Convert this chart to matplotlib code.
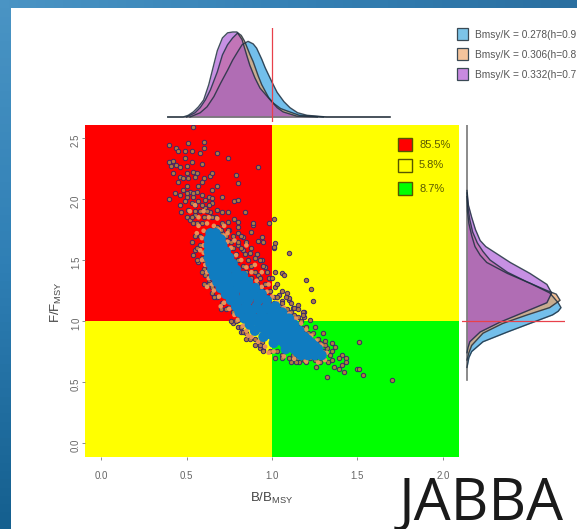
import numpy as np
import matplotlib
matplotlib.use('Agg')
import matplotlib.pyplot as plt
from matplotlib.patches import Rectangle
from matplotlib.colors import LinearSegmentedColormap
from matplotlib.transforms import ScaledTranslation

plt.rcParams['font.family'] = ['Liberation Sans', 'DejaVu Sans']
plt.rcParams['mathtext.default'] = 'regular'

# legend labels, as far as the picture shows them
run_labels = ['Bmsy/K = 0.278(h=0.9', 'Bmsy/K = 0.306(h=0.8', 'Bmsy/K = 0.332(h=0.7']
zone_labels = ['85.5%', '5.8%', '8.7%']
x_ticks = [0.0, 0.5, 1.0, 1.5, 2.0]
y_ticks = [0.0, 0.5, 1.0, 1.5, 2.0, 2.5]

# top density, B/Bmsy against relative height
top_x_blue = [0.52, 0.58, 0.62, 0.66, 0.70, 0.74, 0.77, 0.80, 0.825, 0.86, 0.89, 0.91, 0.94, 0.96, 1.00, 1.03, 1.07, 1.105, 1.15, 1.205, 1.32, 1.69]
top_d_blue = [0, 0.05, 0.12, 0.24, 0.40, 0.55, 0.67, 0.77, 0.85, 0.89, 0.86, 0.81, 0.68, 0.58, 0.41, 0.29, 0.18, 0.11, 0.05, 0.02, 0, 0]
top_x_orange = [0.50, 0.55, 0.58, 0.61, 0.64, 0.68, 0.71, 0.74, 0.77, 0.80, 0.82, 0.84, 0.87, 0.89, 0.92, 0.94, 0.98, 1.01, 1.05, 1.09, 1.16, 1.30]
top_d_orange = [0, 0.05, 0.11, 0.20, 0.32, 0.53, 0.73, 0.85, 0.93, 0.99, 0.96, 0.89, 0.74, 0.65, 0.48, 0.38, 0.23, 0.16, 0.10, 0.07, 0.02, 0]
top_x_purple = [0.39, 0.48, 0.51, 0.54, 0.57, 0.60, 0.63, 0.655, 0.68, 0.71, 0.74, 0.77, 0.795, 0.825, 0.85, 0.87, 0.90, 0.93, 0.99, 1.03, 1.065, 1.145, 1.265]
top_d_purple = [0, 0, 0.02, 0.06, 0.12, 0.20, 0.38, 0.58, 0.78, 0.93, 0.99, 1.0, 1.0, 0.91, 0.74, 0.61, 0.46, 0.34, 0.20, 0.11, 0.06, 0.01, 0]

# right density, F/Fmsy against relative width
right_y_blue = [2.02, 1.90, 1.80, 1.70, 1.61, 1.54, 1.48, 1.39, 1.31, 1.23, 1.15, 1.11, 1.08, 1.05, 0.98, 0.91, 0.83, 0.75, 0.70, 0.62]
right_d_blue = [0, 0.005, 0.02, 0.05, 0.085, 0.14, 0.21, 0.43, 0.67, 0.88, 0.97, 1.0, 0.97, 0.91, 0.67, 0.43, 0.17, 0.05, 0.02, 0]
right_y_orange = [2.05, 1.93, 1.83, 1.73, 1.64, 1.57, 1.50, 1.40, 1.32, 1.25, 1.22, 1.17, 1.11, 1.05, 0.98, 0.90, 0.80, 0.74, 0.68]
right_d_orange = [0, 0.01, 0.03, 0.06, 0.11, 0.17, 0.245, 0.43, 0.64, 0.85, 0.95, 0.99, 0.88, 0.64, 0.38, 0.17, 0.05, 0.02, 0]
right_y_purple = [2.07, 1.95, 1.85, 1.75, 1.66, 1.61, 1.57, 1.48, 1.39, 1.30, 1.23, 1.15, 1.07, 0.99, 0.91, 0.83, 0.78, 0.74]
right_d_purple = [0, 0.015, 0.05, 0.09, 0.14, 0.20, 0.28, 0.46, 0.67, 0.85, 0.90, 0.85, 0.60, 0.35, 0.14, 0.03, 0.01, 0]

# scatter: (B/Bmsy, F/Fmsy)
points_purple = [
    (.54,2.59),(.40,2.44),(.44,2.42),(.51,2.46),(.60,2.47),(.60,2.42),(.45,2.39),(.49,2.39),(.53,2.39),(.58,2.38),
    (.68,2.38),(.74,2.34),(.49,2.34),(.40,2.30),(.42,2.31),(.44,2.28),(.41,2.27),(.46,2.26),(.50,2.27),(.53,2.30),
    (.59,2.29),(.92,2.26),(.42,2.21),(.46,2.18),(.50,2.21),(.54,2.22),(.56,2.21),(.48,2.17),(.51,2.17),(.55,2.18),
    (.60,2.17),(.64,2.19),(.65,2.21),(.79,2.20),(.80,2.13),(.68,2.11),(.45,2.14),(.50,2.11),(.57,2.11),(.59,2.14),
    (.65,2.07),(.48,2.07),(.52,2.06),(.56,2.06),(.43,2.05),(.40,2.00),(.46,2.03),(.50,2.02),(.54,2.02),(.59,2.03),
    (.63,2.02),(.65,2.01),(.71,2.02),(.78,1.98),(.80,1.99),(.46,1.95),(.49,1.98),(.53,1.97),(.57,1.98),(.61,1.99),
    (.65,1.97),(.47,1.89),(.51,1.91),(.50,1.85),(.52,1.83),(.54,1.80),(.55,1.87),(.61,1.93),(.64,1.89),(.68,1.91),
    (.71,1.89),(.74,1.89),(.67,1.85),(.74,1.81),(.78,1.84),(.80,1.81),(.84,1.89),(.89,1.79),(.98,1.80),(.71,1.80),
    (.80,1.77),(.53,1.65),(.55,1.58),(.54,1.54),(.58,1.62),(.59,1.52),(.57,1.48),(.60,1.43),(.61,1.38),(.63,1.32),
    (.65,1.28),(.65,1.23),(.68,1.20),(.71,1.15),(.74,1.11),(.77,1.07),(.80,1.01),(.77,.98),(.82,.91),(.68,1.77),
    (.71,1.72),(.75,1.66),(.80,1.62),(.83,1.58),(.87,1.56),(.90,1.52),(.94,1.50),(.92,1.66),(.94,1.69),(1.01,1.60),
    (1.02,1.64),(1.10,1.56),(.88,1.73),(.83,1.69),(.80,1.72),(.75,1.75),(1.02,1.40),(1.06,1.39),(1.07,1.38),(1.09,1.23),
    (.96,1.44),(.98,1.35),(.92,1.38),(1.02,1.28),(1.04,1.21),(1.01,1.20),(1.06,1.16),(1.10,1.17),(1.12,1.11),(1.05,1.12),
    (1.11,1.07),(1.15,1.13),(1.01,1.84),(1.01,1.61),(1.20,1.34),(1.23,1.26),(1.24,1.16),(1.19,1.07),(1.13,1.11),(1.10,1.19),
    (.95,1.65),(.89,1.80),(1.18,1.07),(1.19,1.03),(1.22,1.01),(1.15,1.03),(1.30,.90),(1.51,.83),(1.18,.94),(1.21,.90),
    (1.24,.83),(1.28,.82),(1.31,.84),(1.35,.82),(1.37,.79),(1.32,.78),(1.29,.75),(1.34,.72),(1.41,.72),(1.43,.70),
    (1.39,.70),(1.35,.68),(1.33,.66),(1.28,.66),(1.43,.66),(1.41,.64),(1.36,.62),(1.39,.61),(1.26,.62),(1.42,.58),
    (1.50,.61),(1.51,.61),(1.53,.56),(1.32,.54),(1.70,.52),(1.11,.66),(1.16,.66),(1.19,.68),(1.22,.70),(1.25,.68),
    (1.03,.75),(1.02,.82),(1.08,.76),(1.06,.72),(1.12,.72),(1.15,.70),(1.00,.83),(.83,.91),(.85,.85),(.93,.78),
    (.95,.76),(.94,.83),
    # right rim of the band
    (.70,1.75),(.74,1.75),(.73,1.70),(.77,1.70),(.82,1.70),(.76,1.65),(.80,1.65),(.85,1.65),(.77,1.60),(.82,1.60),
    (.88,1.60),(.79,1.55),(.84,1.55),(.91,1.55),(.80,1.50),(.86,1.50),(.93,1.50),(.83,1.45),(.88,1.45),(.95,1.45),
    (.85,1.40),(.90,1.40),(.97,1.40),(.88,1.35),(.93,1.35),(1.00,1.35),(.91,1.30),(.96,1.30),(1.03,1.30),(.95,1.25),
    (.99,1.25),(1.06,1.25),(.98,1.20),(1.03,1.20),(1.08,1.20),(1.01,1.15),(1.06,1.15),(1.11,1.15),(1.04,1.10),(1.09,1.10),
    (1.15,1.10),(1.08,1.05),(1.13,1.05),(1.18,1.05),(1.12,1.00),(1.17,1.00),(1.15,.95),(1.20,.95),(1.25,.95),(1.19,.90),
    (1.24,.90),(1.22,.85),(1.27,.85),(1.25,.80),(1.31,.80),(1.30,.75),(1.35,.75),
    # left rim of the band
    (.56,1.80),(.59,1.80),(.55,1.70),(.58,1.70),(.56,1.60),(.56,1.50),(.60,1.50),(.59,1.40),(.60,1.30),(.63,1.30),
    (.66,1.20),(.70,1.10),(.73,1.10),(.76,1.00),(.79,1.00),(.80,.95),(.82,.95),(.85,.90),(.87,.85),(.90,.85),
    (.90,.80),(.93,.80),(.95,.75),(.99,.75),(1.02,.70),(1.06,.70),(1.10,.70),(1.14,.66),(1.20,.66),
    # top of the cloud
    (.55,1.90),(.58,1.90),(.62,1.90),(.53,1.85),(.60,1.85),(.65,1.85),(.55,1.95),(.59,1.95),(.63,1.95),(.50,2.05),(.54,2.05),
]
points_orange = [
    (.62,1.80),(.66,1.78),(.60,1.74),(.69,1.75),(.59,1.68),(.72,1.70),(.60,1.62),(.74,1.65),(.60,1.56),(.76,1.60),
    (.59,1.50),(.79,1.54),(.61,1.46),(.82,1.50),(.62,1.40),(.85,1.44),(.63,1.35),(.88,1.40),(.65,1.30),(.91,1.33),
    (.66,1.25),(.94,1.28),(.69,1.20),(.97,1.24),(.72,1.15),(1.00,1.20),(.75,1.10),(1.03,1.15),(.78,1.05),(1.07,1.11),
    (.80,1.01),(1.10,1.06),(.83,.96),(1.14,1.02),(.85,.92),(1.17,.98),(.88,.87),(1.20,.93),(.92,.83),(1.23,.88),
    (.96,.79),(1.26,.84),(1.01,.75),(1.29,.80),(1.07,.71),(1.32,.74),(1.13,.69),(1.31,.68),(1.20,.67),(1.27,.66),
    (.55,1.95),(.52,1.90),(.57,1.85),(.60,1.90),(.63,1.85),(.68,1.84),(.72,1.78),(.56,1.72),(.57,1.78),(.74,1.72),
    (.78,1.66),(.85,1.62),(.90,1.46),(.94,1.40),(.98,1.30),(.58,1.58),(.62,1.28),(.70,1.12),(.86,.88),(.98,.74),
]
points_blue = [
    (.64,1.72),(.67,1.72),(.63,1.67),(.67,1.67),(.70,1.67),(.63,1.62),(.67,1.62),(.71,1.62),
    (.63,1.57),(.67,1.57),(.70,1.57),(.73,1.57),(.63,1.52),(.67,1.52),(.71,1.52),(.75,1.52),
    (.64,1.47),(.68,1.47),(.72,1.47),(.77,1.47),(.65,1.42),(.69,1.42),(.74,1.42),(.79,1.42),
    (.66,1.37),(.70,1.37),(.74,1.37),(.79,1.37),(.83,1.37),(.68,1.32),(.72,1.32),(.77,1.32),(.82,1.32),(.86,1.32),
    (.70,1.27),(.75,1.27),(.80,1.27),(.85,1.27),(.90,1.27),(.73,1.22),(.78,1.22),(.84,1.22),(.89,1.22),(.94,1.22),
    (.76,1.17),(.81,1.17),(.86,1.17),(.92,1.17),(.97,1.17),(.79,1.12),(.85,1.12),(.91,1.12),(.97,1.12),(1.02,1.12),
    (.81,1.07),(.87,1.07),(.94,1.07),(1.00,1.07),(1.06,1.07),(.84,1.02),(.90,1.02),(.97,1.02),(1.04,1.02),(1.10,1.02),
    (.87,.97),(.94,.97),(1.00,.97),(1.07,.97),(1.13,.97),(.90,.92),(.97,.92),(1.03,.92),(1.10,.92),(1.16,.92),
    (.95,.87),(1.01,.87),(1.07,.87),(1.13,.87),(1.19,.87),(1.01,.82),(1.07,.82),(1.12,.82),(1.18,.82),(1.23,.82),
    (1.08,.77),(1.13,.77),(1.18,.77),(1.23,.77),(1.27,.77),(1.17,.72),(1.21,.72),(1.25,.72),(1.29,.72),
    # the thick part of the band, lower right
    (.84,1.10),(.90,1.10),(.96,1.10),(1.02,1.08),(.88,1.04),(.94,1.04),(1.00,1.04),(1.06,1.04),
    (.92,.99),(.98,.99),(1.04,.99),(1.10,.99),(.94,.945),(1.00,.945),(1.06,.945),(1.12,.945),
    (.98,.895),(1.04,.895),(1.10,.895),(1.16,.895),(1.04,.845),(1.10,.845),(1.16,.845),(1.21,.845),
    (1.10,.795),(1.15,.795),(1.20,.795),(1.25,.795),(1.15,.745),(1.20,.745),(1.25,.745),
]

W, H = 577, 529
fig = plt.figure(figsize=(W / 100, H / 100), dpi=100, facecolor='white')


def box(x0, y0, x1, y1):
    # pixel box of the picture to figure coordinates
    return [x0 / W, 1 - y1 / H, (x1 - x0) / W, (y1 - y0) / H]


# blue slide frame, left and top
frame = LinearSegmentedColormap.from_list('frame', ['#4a94c4', '#2f7fb5', '#15608f'])
ax_l = fig.add_axes(box(0, 0, 11, H))
ax_l.imshow(np.linspace(0, 1, 64).reshape(-1, 1), cmap=frame, aspect='auto')
ax_l.axis('off')
frame2 = LinearSegmentedColormap.from_list('frame2', ['#4a94c4', '#3581b5', '#2a6fa0'])
ax_t = fig.add_axes(box(0, 0, W, 8))
ax_t.imshow(np.linspace(0, 1, 64).reshape(1, -1), cmap=frame2, aspect='auto')
ax_t.axis('off')

xlim = (-0.094, 2.094)
ylim = (-0.115, 2.607)

# main kobe panel
ax = fig.add_axes(box(85, 125, 459, 457))
ax.set_xlim(xlim)
ax.set_ylim(ylim)
ax.add_patch(Rectangle((xlim[0], 1), 1 - xlim[0], ylim[1] - 1, color='#ff0000', lw=0))
ax.add_patch(Rectangle((1, 1), xlim[1] - 1, ylim[1] - 1, color='#ffff00', lw=0))
ax.add_patch(Rectangle((xlim[0], ylim[0]), 1 - xlim[0], 1 - ylim[0], color='#ffff00', lw=0))
ax.add_patch(Rectangle((1, ylim[0]), xlim[1] - 1, 1 - ylim[0], color='#00ff00', lw=0))

px, py = zip(*points_purple)
ax.scatter(px, py, s=10, c='#b07a40', edgecolors='#3a2a6a', linewidths=0.7, zorder=3)
ox, oy = zip(*points_orange)
ax.scatter(ox, oy, s=11, c='#e8925a', edgecolors='none', zorder=4)
bx, by = zip(*points_blue)
ax.scatter(bx, by, s=55, c='#0f7cc0', edgecolors='none', zorder=5)

for s in ax.spines.values():
    s.set_visible(False)
ax.set_xticks(x_ticks)
ax.set_yticks(y_ticks)
ax.set_xticklabels(['%.1f' % v for v in x_ticks])
ax.set_yticklabels(['%.1f' % v for v in y_ticks], rotation=90, va='center')
ax.tick_params(length=2, width=0.6, color='#777777', labelcolor='#666666', labelsize=7)
ax.tick_params(axis='x', pad=8)
ax.tick_params(axis='y', pad=1)
for lab in ax.get_yticklabels():
    lab.set_transform(lab.get_transform() + ScaledTranslation(0, -2.5 / 100, fig.dpi_scale_trans))
ax.set_xlabel(r'B/B$_{MSY}$', fontsize=9.5, color='#444444', labelpad=7)
ax.set_ylabel(r'F/F$_{MSY}$', fontsize=9.5, color='#444444', labelpad=5, y=0.467)

# zone legend, inside the panel
zone_cols = ['#ff0000', '#ffff00', '#00ff00']
zone_y = [138, 159, 182]
for lab, col, y0 in zip(zone_labels, zone_cols, zone_y):
    fig.patches.append(Rectangle((398 / W, 1 - (y0 + 13) / H), 14 / W, 13 / H, transform=fig.transFigure,
                                 facecolor=col, edgecolor='#555500', lw=1.0, figure=fig, zorder=10))
    fig.text(419 / W, 1 - (y0 + 6.5) / H, lab, fontsize=8, color='#5a5a00', va='center', zorder=10)

fill_cols = ['#5ab4e8', '#eda468', '#a040d0']
fill_alpha = [0.85, 0.7, 0.58]
edge = '#1f3040'

# top density
ax_top = fig.add_axes(box(85, 28, 459, 122))
ax_top.set_xlim(xlim)
ax_top.set_ylim(-5 / 85, 89 / 85)
ax_top.axis('off')
ax_top.plot([0.39, 1.69], [0, 0], color='#777777', lw=1.2)
for xs, ds, c, a in zip([top_x_blue, top_x_orange, top_x_purple], [top_d_blue, top_d_orange, top_d_purple], fill_cols, fill_alpha):
    ax_top.fill_between(xs, 0, ds, color=c, alpha=a, lw=0)
    ax_top.plot(xs, ds, color=edge, lw=1.0, alpha=0.85)
ax_top.axvline(1, color='#e8404a', lw=0.9)

# right density
ax_right = fig.add_axes(box(462, 125, 565, 457))
ax_right.set_xlim(-5 / 94, 98 / 94)
ax_right.set_ylim(ylim)
ax_right.axis('off')
ax_right.plot([0, 0], [0.516, 2.607], color='#777777', lw=1.2)
for ys, ds, c, a in zip([right_y_blue, right_y_orange, right_y_purple], [right_d_blue, right_d_orange, right_d_purple], fill_cols, fill_alpha):
    ax_right.fill_betweenx(ys, 0, ds, color=c, alpha=a, lw=0)
    ax_right.plot(ds, ys, color=edge, lw=1.0, alpha=0.85)
ax_right.axhline(1, color='#e8404a', lw=0.9)

# run legend
run_y = [28, 48, 68]
for lab, c, y0 in zip(run_labels, ['#7cc4e8', '#f4c49c', '#c88ae0'], run_y):
    fig.patches.append(Rectangle((457 / W, 1 - (y0 + 12) / H), 11 / W, 12 / H, transform=fig.transFigure,
                                 facecolor=c, edgecolor='#3a4a55', lw=0.9, figure=fig))
    fig.text(475 / W, 1 - (y0 + 6.5) / H, lab, fontsize=7.3, color='#555555', va='center')

fig.text(399 / W, 1 - 519 / H, 'JABBA', fontsize=42, family='Open Sans', color='#1a1a1a', va='baseline')

fig.savefig('out.png', dpi=100)
